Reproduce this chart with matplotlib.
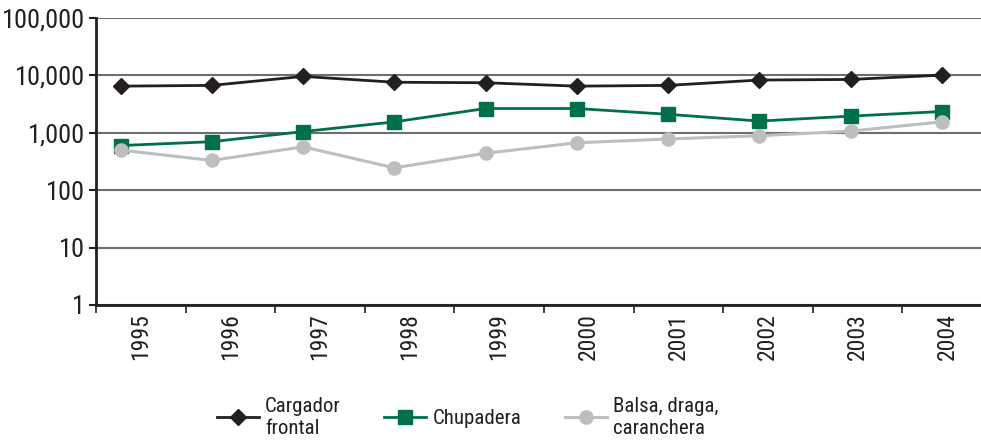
import numpy as np
import matplotlib.pyplot as plt
from matplotlib import font_manager

# Datos (escala logaritmica)
anios = ['1995', '1996', '1997', '1998', '1999', '2000', '2001', '2002', '2003', '2004']
cargador = [6500, 6700, 9600, 7600, 7450, 6500, 6700, 8300, 8500, 10100]
chupadera = [600, 700, 1050, 1550, 2650, 2650, 2100, 1600, 1950, 2350]
balsa = [500, 330, 570, 245, 440, 670, 780, 890, 1070, 1550]

etiquetas = ['Cargador\nfrontal', 'Chupadera', 'Balsa, draga,\ncaranchera']
y_ticks = [1, 10, 100, 1000, 10000, 100000]

# buscar una fuente estrecha; si no hay, Liberation Sans
disponibles = {f.name for f in font_manager.fontManager.ttflist}
estrecha = None
for nombre in ['Liberation Sans Narrow', 'Roboto Condensed', 'Open Sans Condensed']:
    if nombre in disponibles:
        estrecha = nombre
        break
if estrecha:
    fuente = estrecha
    tam_y, tam_x, tam_ley = 19, 17, 15
else:
    fuente = 'Liberation Sans'
    tam_y, tam_x, tam_ley = 16.5, 14, 13
plt.rcParams['font.family'] = [fuente, 'DejaVu Sans']

fig = plt.figure(figsize=(9.81, 4.45), dpi=100)
ax = fig.add_axes([96 / 981, 1 - 305 / 445, 1 - 96 / 981, 287 / 445])

x = np.arange(len(anios))
ax.plot(x, cargador, color='#231f20', lw=2, marker='D', ms=8.5, label=etiquetas[0], zorder=3)
ax.plot(x, chupadera, color='#00704a', lw=2, marker='s', ms=9.5, label=etiquetas[1], zorder=3)
ax.plot(x, balsa, color='#bcbec0', lw=2.2, marker='o', ms=9.5, label=etiquetas[2], zorder=3)

ax.set_yscale('log')
ax.set_ylim(1, 100000)
ax.set_yticks(y_ticks)
ax.set_yticklabels([f'{v:,}' for v in y_ticks], fontsize=tam_y, color='#231f20')
ax.yaxis.set_minor_locator(plt.NullLocator())
ax.grid(axis='y', color='#6d6e71', lw=1.5, zorder=1)
ax.tick_params(axis='y', length=5, width=1.5, pad=3, color='#231f20')

# categorias: marcas en los limites, etiquetas al centro
ax.set_xlim(-0.263, 9.43)
limites = -0.27 + 0.982 * x
centros = limites + 0.49
ax.set_xticks(limites, minor=True)
ax.set_xticks(centros)
ax.set_xticklabels(anios, rotation=90, fontsize=tam_x, color='#231f20')
ax.tick_params(axis='x', which='major', length=0, pad=6)
ax.tick_params(axis='x', which='minor', length=6, width=1.2, color='#231f20')

for lado in ['top', 'right']:
    ax.spines[lado].set_visible(False)
ax.spines['left'].set_linewidth(2)
ax.spines['bottom'].set_linewidth(2)
ax.spines['left'].set_color('#231f20')
ax.spines['bottom'].set_color('#231f20')

ley = fig.legend(loc='center left', bbox_to_anchor=(217 / 981, 1 - 417 / 445), ncol=3,
                 frameon=False, fontsize=tam_ley, handlelength=2.0, columnspacing=2.1,
                 handletextpad=0.3, labelspacing=0.15, borderpad=0, borderaxespad=0)
for t in ley.get_texts():
    t.set_color('#231f20')

plt.savefig('out.png', dpi=100)
